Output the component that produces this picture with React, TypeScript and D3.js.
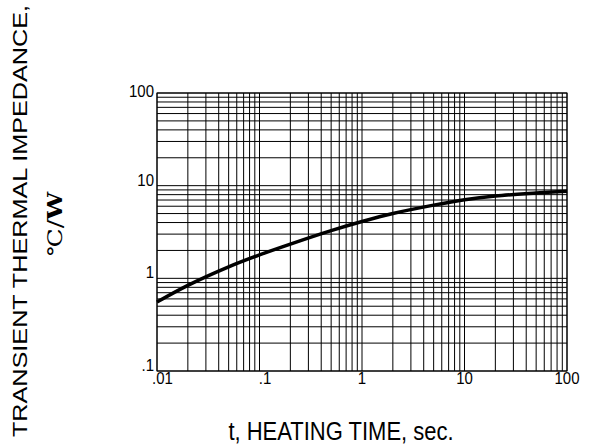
import React from "react";
import * as d3 from "d3";

// curve
const timeSec = [0.01, 0.02, 0.05, 0.1, 0.2, 0.5, 1, 2, 5, 10, 20, 50, 100];
const impedance = [0.555, 0.84, 1.33, 1.79, 2.34, 3.27, 4.1, 5.01, 6.17, 7.05, 7.73, 8.32, 8.71];

const xTicks = [0.01, 0.1, 1, 10, 100];
const xTickLabels = [".01", ".1", "1", "10", "100"];
const yTicks = [0.1, 1, 10, 100];
const yTickLabels = [".1", "1", "10", "100"];

const width = 589;
const height = 445;
const margin = { top: 93, right: 22, bottom: 74, left: 157 };

// every 1..9 step of each decade, plus the top end
const gridValues = (lo: number, hi: number) => {
  const out: number[] = [];
  for (let p = Math.log10(lo); p < Math.log10(hi); p++) {
    for (let k = 1; k < 10; k++) out.push(k * Math.pow(10, p));
  }
  out.push(hi);
  return out;
};

const App: React.FC = () => {
  const x = d3
    .scaleLog()
    .domain([0.01, 100])
    .range([margin.left, width - margin.right]);
  const y = d3
    .scaleLog()
    .domain([0.1, 100])
    .range([height - margin.bottom, margin.top]);

  const pts = timeSec.map((t, i) => [t, impedance[i]] as [number, number]);
  const line = d3
    .line<[number, number]>()
    .x((d) => x(d[0]))
    .y((d) => y(d[1]))
    .curve(d3.curveCatmullRom.alpha(0.5));

  const font = "Arial, 'Liberation Sans', Helvetica, sans-serif";
  const [x0, x1] = x.range();
  const [y0, y1] = y.range();

  return (
    <svg
      width={width}
      height={height}
      style={{ position: "absolute", left: 0, top: 0, background: "#fff" }}
    >
      {/* grid */}
      <g stroke="#000" strokeWidth={1}>
        {gridValues(0.01, 100).map((v, i) => (
          <line key={"v" + i} x1={x(v)} x2={x(v)} y1={y1} y2={y0} />
        ))}
        {gridValues(0.1, 100).map((v, i) => (
          <line key={"h" + i} x1={x0} x2={x1} y1={y(v)} y2={y(v)} />
        ))}
      </g>
      <rect x={x0} y={y1} width={x1 - x0} height={y0 - y1} fill="none" stroke="#000" />

      {/* curve */}
      <path d={line(pts) ?? ""} fill="none" stroke="#000" strokeWidth={3.5} />

      {/* y tick labels */}
      {yTicks.map((v, i) => (
        <text
          key={"yl" + i}
          transform={`translate(${x0 - 3},${y(v) + (v === 100 ? 4 : 0)}) scale(1,1.15)`}
          textAnchor="end"
          fontFamily={font}
          fontSize={15}
        >
          {yTickLabels[i]}
        </text>
      ))}

      {/* x tick labels */}
      {xTicks.map((v, i) => (
        <text
          key={"xl" + i}
          transform={`translate(${x(v) + (xTickLabels[i].startsWith(".") ? 5.5 : 0)},${y0 + 13}) scale(1,1.15)`}
          textAnchor="middle"
          fontFamily={font}
          fontSize={15}
        >
          {xTickLabels[i]}
        </text>
      ))}

      {/* axis titles */}
      <text
        transform={`translate(341,440) scale(1,1.2)`}
        textAnchor="middle"
        fontFamily={font}
        fontSize={22}
      >
        t, HEATING TIME, sec.
      </text>
      <text
        transform={`translate(27,221) rotate(-90) scale(1.2,1)`}
        textAnchor="middle"
        fontFamily={font}
        fontSize={21}
      >
        TRANSIENT THERMAL IMPEDANCE,
      </text>
      <text
        transform={`translate(62,224) rotate(-90) scale(1.25,1)`}
        textAnchor="middle"
        fontFamily="'DejaVu Serif', 'Liberation Serif', serif"
        fontSize={20}
      >
        ℃/<tspan fontWeight="bold">W</tspan>
      </text>
    </svg>
  );
};

export default App;
